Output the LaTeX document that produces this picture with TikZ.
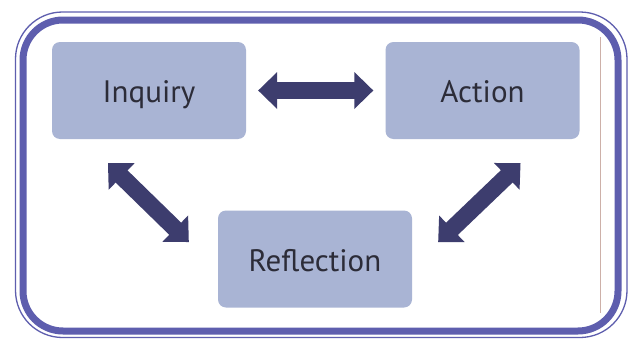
\documentclass[tikz,border=0pt]{standalone}
\usepackage{fontspec}
\setmainfont{PT Sans}
\usetikzlibrary{arrows.meta}
\definecolor{framec}{HTML}{5E5EAE}
\definecolor{boxfill}{HTML}{A9B4D4}
\definecolor{arrowc}{HTML}{3D3D6E}
\definecolor{txt}{HTML}{2C2C38}
\definecolor{linec}{HTML}{CDB0A8}
\begin{document}
\begin{tikzpicture}[x=1pt,y=-1pt,
  stagebox/.style={fill=boxfill, rounded corners=8pt, minimum width=194pt, minimum height=97pt, inner sep=0pt, text height=24.5pt, text depth=0pt, font=\fontsize{31}{34}\selectfont, text=txt},
  blockarrow/.style={draw=arrowc, line width=17pt, line cap=rect, {Triangle[width=37pt,length=19pt,line width=0pt]}-{Triangle[width=37pt,length=19pt,line width=0pt]}}]
\useasboundingbox (0,0) rectangle (635,340);
\fill[white] (0,0) rectangle (635,340);
% frame
\draw[framec, line width=7pt, rounded corners=40pt] (23,20) rectangle (618,331);
\draw[framec, line width=1.3pt, rounded corners=47pt] (15.5,12) rectangle (627,337.5);
\draw[linec, line width=0.8pt] (600,37) -- (600,313);
% boxes
\node[stagebox] (inq) at (149,90.5) {Inquiry};
\node[stagebox] (act) at (482.5,90.5) {Action};
\node[stagebox] (ref) at (315,259) {Reflection};
% arrow ends
\coordinate (i1) at ([shift={(-41,24)}]inq.south);
\coordinate (r1) at ([shift={(-29,-17)}]ref.west);
\coordinate (a1) at ([shift={(38,24)}]act.south);
\coordinate (r2) at ([shift={(26,-17)}]ref.east);
% arrows
\draw[blockarrow, shorten <=12pt, shorten >=12pt] (inq.east) -- (act.west);
\draw[blockarrow] (i1) -- (r1);
\draw[blockarrow] (a1) -- (r2);
\end{tikzpicture}
\end{document}
